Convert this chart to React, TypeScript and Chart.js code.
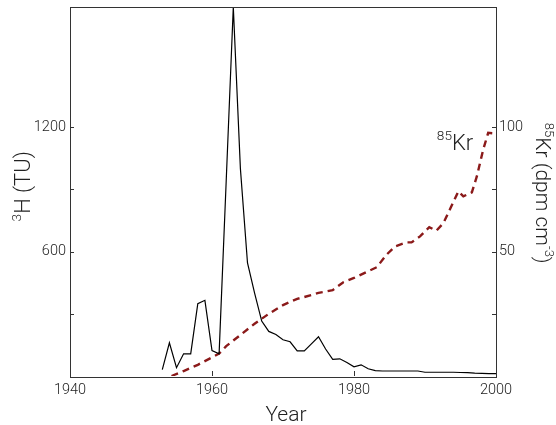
import React, { useEffect, useRef } from 'react';
import { Chart, registerables } from 'chart.js';

Chart.register(...registerables);

// ---- data ----
const tritiumYears = [
  1953, 1954, 1955, 1956, 1957, 1958, 1959, 1960, 1961, 1962, 1963, 1964, 1965, 1966,
  1967, 1968, 1969, 1970, 1971, 1972, 1973, 1974, 1975, 1976, 1977, 1978, 1979, 1980,
  1981, 1982, 1983, 1984, 1985, 1986, 1987, 1988, 1989, 1990, 1991, 1992, 1993, 1994,
  1995, 1996, 1997, 1998, 1999, 2000,
];
const tritiumTU = [
  31, 160, 40, 107, 107, 349, 365, 123, 107, 940, 1780, 1000, 545, 400,
  265, 215, 200, 175, 165, 121, 121, 155, 189, 130, 80, 83, 65, 44,
  54, 35, 26, 24, 24, 24, 24, 24, 24, 18, 18, 18, 18, 18,
  17, 16, 14, 13, 11, 11,
];
const krYears = [
  1954.3, 1956, 1958, 1960, 1961, 1962, 1964, 1966, 1967, 1968, 1970, 1972, 1974, 1975,
  1977, 1978.5, 1980, 1982, 1983.2, 1984.6, 1985.8, 1987.4, 1988.1, 1989.3, 1990.6,
  1991.6, 1992.6, 1993.5, 1994.7, 1995.4, 1996.6, 1997.3, 1998.2, 1998.9, 2000,
];
const krActivity = [
  0, 2, 4.5, 7.5, 9, 12, 16.5, 21, 23, 25, 28.5, 31, 32.5, 33.4,
  34.5, 37.7, 39.4, 42.1, 43.7, 48.8, 52.1, 53.7, 53.7, 56.1, 59.8,
  58.4, 61.5, 66.9, 74.2, 72.2, 73.8, 80.2, 91, 97.7, 97.4,
];

const yearTicks = [1940, 1960, 1980, 2000];
const tuTicks = [300, 600, 900, 1200];
const tuLabelled = [600, 1200];
const krTicks = [25, 50, 75, 100];
const krLabelled = [50, 100];

const xTitle = 'Year';
const leftTitle = [{ t: '3', sup: true }, { t: 'H (TU)' }];
const rightTitle = [{ t: '85', sup: true }, { t: 'Kr (dpm cm' }, { t: '-3', sup: true }, { t: ')' }];
const krLabel = [{ t: '85', sup: true }, { t: 'Kr' }];

const FONT = 'Roboto, "Liberation Sans", sans-serif';
const TEXT = '#222';
const FRAME = '#333';
const KR_COLOR = '#8b1a1a';

type Part = { t: string; sup?: boolean };

function partsWidth(ctx: CanvasRenderingContext2D, parts: Part[], size: number) {
  let w = 0;
  for (const p of parts) {
    ctx.font = `300 ${p.sup ? size * 0.62 : size}px ${FONT}`;
    w += ctx.measureText(p.t).width;
  }
  return w;
}

function drawParts(ctx: CanvasRenderingContext2D, parts: Part[], size: number, x: number, y: number) {
  let cx = x;
  ctx.textBaseline = 'alphabetic';
  ctx.textAlign = 'left';
  for (const p of parts) {
    ctx.font = `300 ${p.sup ? size * 0.62 : size}px ${FONT}`;
    ctx.fillText(p.t, cx, p.sup ? y - size * 0.42 : y);
    cx += ctx.measureText(p.t).width;
  }
}

const decorPlugin = {
  id: 'decor',
  afterDraw(chart: any) {
    const { ctx, chartArea: a, scales } = chart;
    const xs = scales.x, yl = scales.y, yr = scales.y1;
    ctx.save();
    // frame
    ctx.strokeStyle = FRAME;
    ctx.lineWidth = 1;
    ctx.strokeRect(Math.round(a.left) + 0.5, Math.round(a.top) + 0.5, Math.round(a.right - a.left), Math.round(a.bottom - a.top));
    // inward ticks
    ctx.beginPath();
    for (const v of yearTicks) {
      const px = Math.round(xs.getPixelForValue(v)) + 0.5;
      ctx.moveTo(px, a.bottom);
      ctx.lineTo(px, a.bottom - 5);
    }
    for (const v of tuTicks) {
      const py = Math.round(yl.getPixelForValue(v)) + 0.5;
      ctx.moveTo(a.left, py);
      ctx.lineTo(a.left + 4, py);
    }
    for (const v of krTicks) {
      const py = Math.round(yr.getPixelForValue(v)) + 0.5;
      ctx.moveTo(a.right, py);
      ctx.lineTo(a.right - 4, py);
    }
    ctx.stroke();

    ctx.fillStyle = TEXT;
    // x title
    ctx.font = `300 21px ${FONT}`;
    ctx.textAlign = 'center';
    ctx.textBaseline = 'alphabetic';
    ctx.fillText(xTitle, (a.left + a.right) / 2 + 3, 421);

    // left title (rotated -90)
    const cy = (a.top + a.bottom) / 2;
    ctx.save();
    ctx.translate(30, cy - 5);
    ctx.rotate(-Math.PI / 2);
    const lw = partsWidth(ctx, leftTitle, 22);
    drawParts(ctx, leftTitle, 22, -lw / 2, 0);
    ctx.restore();

    // right title (rotated +90)
    ctx.save();
    ctx.translate(536, cy + 2);
    ctx.rotate(Math.PI / 2);
    const rw = partsWidth(ctx, rightTitle, 21);
    drawParts(ctx, rightTitle, 21, -rw / 2, 0);
    ctx.restore();

    // 85Kr annotation
    const kw = partsWidth(ctx, krLabel, 22);
    const ax = xs.getPixelForValue(1996.8);
    const ay = yr.getPixelForValue(91);
    drawParts(ctx, krLabel, 22, ax - kw, ay);
    ctx.restore();
  },
};

export default function App() {
  const ref = useRef<HTMLCanvasElement | null>(null);
  useEffect(() => {
    if (!ref.current) return;
    const tickFont = { family: FONT, size: 14.5, weight: 300 as any };
    const chart = new Chart(ref.current, {
      type: 'line',
      data: {
        datasets: [
          {
            label: '3H',
            data: tritiumYears.map((x, i) => ({ x, y: tritiumTU[i] })),
            yAxisID: 'y',
            borderColor: '#000',
            borderWidth: 1.2,
            pointRadius: 0,
            tension: 0,
            fill: false,
          },
          {
            label: '85Kr',
            data: krYears.map((x, i) => ({ x, y: krActivity[i] })),
            yAxisID: 'y1',
            borderColor: KR_COLOR,
            borderWidth: 2.4,
            borderDash: [7, 5],
            pointRadius: 0,
            tension: 0,
            fill: false,
          },
        ],
      },
      options: {
        animation: false,
        responsive: false,
        maintainAspectRatio: false,
        layout: { padding: { top: 6.5, left: 0, right: 0, bottom: 0 } },
        plugins: { legend: { display: false }, tooltip: { enabled: false } },
        scales: {
          x: {
            type: 'linear',
            min: 1940,
            max: 2000,
            afterBuildTicks: (s: any) => { s.ticks = yearTicks.map((v) => ({ value: v })); },
            afterFit: (s: any) => { s.height = 49; s.paddingLeft = 0; s.paddingRight = 0; },
            grid: { display: false, drawTicks: false },
            border: { display: false },
            ticks: { font: tickFont, color: TEXT, padding: 6, maxRotation: 0, autoSkip: false, callback: (v: any) => String(v) },
          },
          y: {
            type: 'linear',
            position: 'left',
            min: 0,
            max: 1782,
            afterBuildTicks: (s: any) => { s.ticks = tuTicks.map((v) => ({ value: v })); },
            afterFit: (s: any) => { s.width = 70; s.paddingTop = 0; s.paddingBottom = 0; },
            grid: { display: false, drawTicks: false },
            border: { display: false },
            ticks: { font: tickFont, color: TEXT, padding: 4, autoSkip: false, callback: (v: any) => (tuLabelled.includes(v) ? String(v) : '') },
          },
          y1: {
            type: 'linear',
            position: 'right',
            min: 0,
            max: 148.5,
            afterBuildTicks: (s: any) => { s.ticks = krTicks.map((v) => ({ value: v })); },
            afterFit: (s: any) => { s.width = 60; s.paddingTop = 0; s.paddingBottom = 0; },
            grid: { display: false, drawTicks: false },
            border: { display: false },
            ticks: { font: tickFont, color: TEXT, padding: 3, autoSkip: false, callback: (v: any) => (krLabelled.includes(v) ? String(v) : '') },
          },
        },
      },
      plugins: [decorPlugin],
    });
    return () => chart.destroy();
  }, []);
  return (
    <div style={{ position: 'fixed', left: 0, top: 0, width: 556, height: 425, background: '#fff' }}>
      <canvas ref={ref} width={556} height={425} style={{ width: 556, height: 425, display: 'block' }} />
    </div>
  );
}
